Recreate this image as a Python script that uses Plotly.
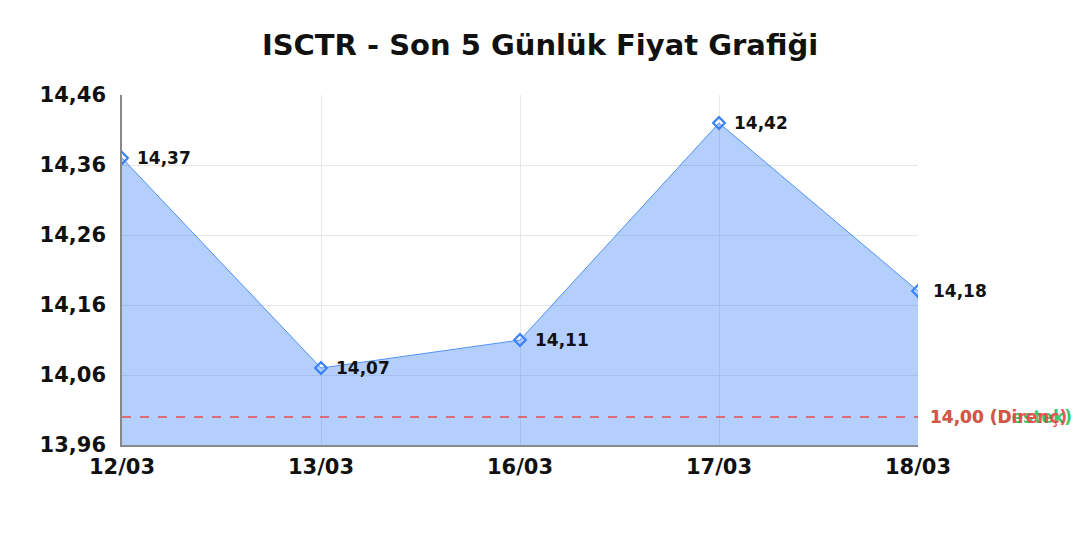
"""Son 5 gunluk fiyat grafigi (ISCTR) - plotly ile alan grafigi."""

import plotly.graph_objects as go

# Veri
dates = ['12/03', '13/03', '16/03', '17/03', '18/03']
prices = [14.37, 14.07, 14.11, 14.42, 14.18]
price_labels = ['14,37', '14,07', '14,11', '14,42', '14,18']

y_ticks = [13.96, 14.06, 14.16, 14.26, 14.36, 14.46]
y_tick_labels = ['13,96', '14,06', '14,16', '14,26', '14,36', '14,46']

support_level = 14.00
resistance_level = 14.00
level_labels = ['14,00 (Destek)', '14,00 (Direnç)']

FONT = 'DejaVu Sans'
BLUE = '#3b82f6'
RED = '#ef4444'
GREEN = '#22c55e'

fig = go.Figure()

fig.add_trace(go.Scatter(
    x=dates, y=prices,
    mode='lines+markers',
    fill='tozeroy',
    fillcolor='rgba(59,130,246,0.38)',
    line={'color': 'rgba(59,130,246,0.85)', 'width': 1},
    marker={'symbol': 'diamond-open', 'size': 9,
            'color': BLUE, 'line': {'width': 2.2, 'color': BLUE}},
    hoverinfo='skip',
    showlegend=False,
))

# Direnc / destek cizgisi
for level in (support_level, resistance_level):
    fig.add_shape(type='line', xref='paper', x0=0, x1=1,
                  yref='y', y0=level, y1=level,
                  line={'color': RED, 'width': 1.2, 'dash': 'dash'},
                  opacity=0.9)

annotations = []
for d, p, lbl in zip(dates, prices, price_labels):
    annotations.append(dict(
        x=d, y=p, text=f'<b>{lbl}</b>', showarrow=False,
        xanchor='left', yanchor='middle', xshift=13,
        font={'family': FONT, 'size': 17, 'color': '#111111'},
    ))

# destek once, direnc ustte cizilir
for level, lbl, col in zip((support_level, resistance_level),
                           level_labels, (GREEN, RED)):
    annotations.append(dict(
        xref='paper', x=1, y=level, text=f'<b>{lbl}</b>',
        showarrow=False, xanchor='left', yanchor='middle', xshift=10,
        font={'family': FONT, 'size': 17, 'color': col},
        opacity=0.9,
    ))

fig.update_layout(
    width=1080, height=540,
    margin={'l': 122, 'r': 162, 't': 95, 'b': 95},
    paper_bgcolor='white', plot_bgcolor='white',
    font={'family': FONT, 'color': '#111111'},
    title={'text': '<b>ISCTR - Son 5 Günlük Fiyat Grafiği</b>',
           'x': 0.5, 'xanchor': 'center', 'y': 0.917, 'yanchor': 'middle',
           'font': {'family': FONT, 'size': 29, 'color': '#111111'}},
    annotations=annotations,
    xaxis={
        'type': 'category', 'range': [0, len(dates) - 1],
        'showgrid': True, 'gridcolor': '#e6e6e6', 'gridwidth': 1,
        'showline': True, 'linecolor': '#888888', 'linewidth': 1.5,
        'ticks': '', 'ticklabelstandoff': 2,
        'tickfont': {'family': FONT, 'size': 21,
                     'color': '#111111', 'weight': 'bold'},
    },
    yaxis={
        'range': [y_ticks[0], y_ticks[-1]],
        'tickvals': y_ticks, 'ticktext': y_tick_labels,
        'showgrid': True, 'gridcolor': '#e6e6e6', 'gridwidth': 1,
        'zeroline': False,
        'showline': True, 'linecolor': '#888888', 'linewidth': 1.5,
        'ticks': '', 'ticklabelstandoff': 10,
        'tickfont': {'family': FONT, 'size': 21,
                     'color': '#111111', 'weight': 'bold'},
    },
)

fig.write_html('out.html', config={'displayModeBar': False})

# sayfa kenar boslugunu kaldir
with open('out.html', encoding='utf-8') as f:
    html = f.read()
html = html.replace('<body>', '<body style="margin:0;overflow:hidden">', 1)
with open('out.html', 'w', encoding='utf-8') as f:
    f.write(html)
